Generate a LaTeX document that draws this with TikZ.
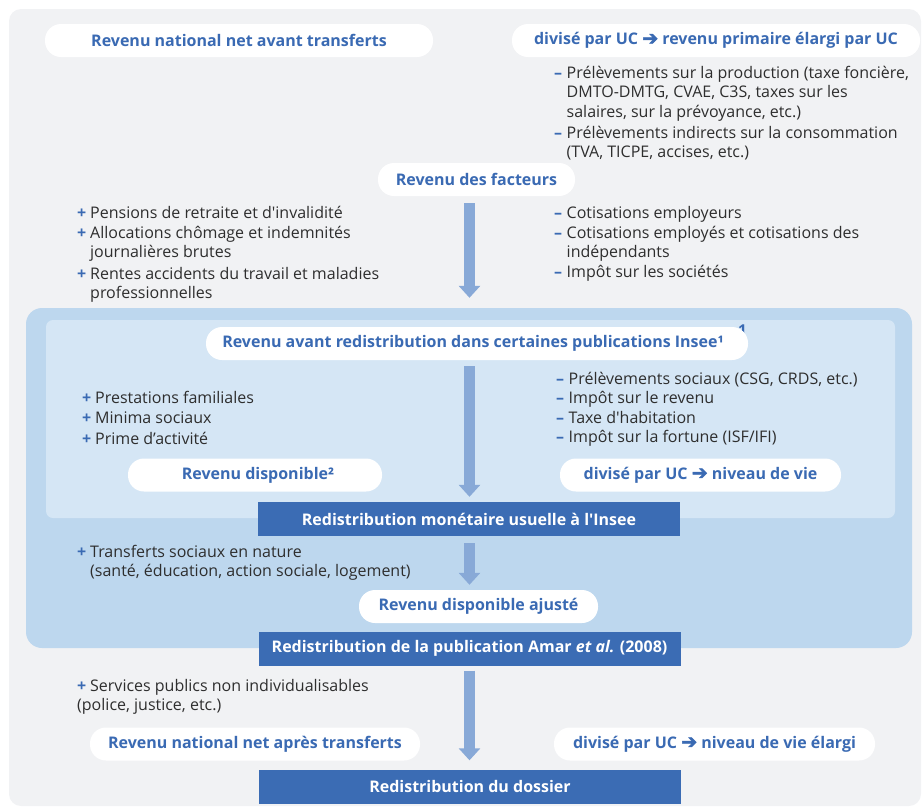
\documentclass[tikz,border=0pt]{standalone}
\usepackage{fontspec}
\setmainfont{Open Sans}[Ligatures=TeXOff]
\newfontfamily\djv{DejaVu Sans}[FakeBold=2.5]
\usetikzlibrary{arrows.meta}
\definecolor{bgg}{HTML}{F1F2F4}
\definecolor{midb}{HTML}{BDD7EE}
\definecolor{litb}{HTML}{D5E6F5}
\definecolor{darkb}{HTML}{3B6CB4}
\definecolor{tblue}{HTML}{3A6AB3}
\definecolor{arrc}{HTML}{88A9D7}
\definecolor{txt}{HTML}{2E2E2E}
\newcommand\plusm{\makebox[13pt][l]{\textcolor{tblue}{\bfseries +}}}
\newcommand\minusm{\makebox[12.5pt][l]{\textcolor{tblue}{\bfseries –}}}
\newcommand\ind{\hspace*{12.5pt}}
\newcommand\indp{\hspace*{13pt}}
\newcommand\arr{{\fontsize{19}{19}\djv ➔}}
\begin{document}
\begin{tikzpicture}[x=1pt,y=-1pt,
 pill/.style={fill=white, rounded corners=16pt, minimum height=33pt, inner sep=0pt, text=tblue, font=\fontsize{16}{19}\selectfont\bfseries},
 darkbox/.style={fill=darkb, minimum height=34pt, minimum width=422pt, inner sep=0pt, text=white, font=\fontsize{16}{19}\selectfont\bfseries},
 lst/.style={anchor=base west, inner sep=0pt, text=txt, font=\fontsize{16}{19.5}\selectfont},
 bigarrow/.style={draw=arrc, line width=11pt, -{Triangle[length=12pt,width=21pt]}},
]
\useasboundingbox (0,0) rectangle (924,807);
% backgrounds
\fill[bgg, rounded corners=12pt] (9,9) rectangle (921,806);
\fill[midb, rounded corners=16pt] (26,308) rectangle (912,648);
\fill[litb, rounded corners=7pt] (46,320) rectangle (895,518);

% stray footnote mark
\node[anchor=base, inner sep=0pt, text=tblue, font=\fontsize{15}{18}\selectfont\bfseries] (fn1) at (742.5,335) {1};

% pills
\node[pill, minimum width=388pt] (p1) at (239,40.5) {Revenu national net avant transferts};
\node[pill, minimum width=408pt] (p2) at (716,40.5) {divisé par UC \arr{} revenu primaire élargi par UC};
\node[pill, minimum width=197pt] (p3) at (476.5,179.5) {Revenu des facteurs};
\node[pill, minimum width=542pt] (p4) at (477,343.5) {\hspace*{-8pt}Revenu avant redistribution dans certaines publications Insee¹};
\node[pill, minimum width=254pt] (p5) at (255,475) {\hspace*{6pt}Revenu disponible²};
\node[pill, minimum width=281pt] (p6) at (700.5,475) {divisé par UC \arr{} niveau de vie};
\node[pill, minimum width=239pt] (p7) at (478.5,606.5) {Revenu disponible ajusté};
\node[pill, minimum width=330pt] (p8) at (255,744) {Revenu national net après transferts};
\node[pill, minimum width=321pt] (p9) at (714.5,744) {divisé par UC \arr{} niveau de vie élargi};

% dark boxes
\node[darkbox] (b1) at (469,519) {Redistribution monétaire usuelle à l'Insee};
\node[darkbox] (b2) at (469.5,648.5) {Redistribution de la publication Amar \textit{et al.} (2008)};
\node[darkbox] (b3) at (470,786.5) {Redistribution du dossier};

% lists
\node[lst] (r1) at (554,78) {\begin{tabular}[t]{@{}l@{}}
\minusm Prélèvements sur la production (taxe foncière,\\
\ind DMTO-DMTG, CVAE, C3S, taxes sur les\\
\ind salaires, sur la prévoyance, etc.)\\[1.5pt]
\minusm Prélèvements indirects sur la consommation\\
\ind (TVA, TICPE, accises, etc.)
\end{tabular}};

\node[lst] (l1) at (77,218.5) {\begin{tabular}[t]{@{}l@{}}
\plusm Pensions de retraite et d'invalidité\\
\plusm Allocations chômage et indemnités\\
\indp journalières brutes\\[2pt]
\plusm Rentes accidents du travail et maladies\\
\indp professionnelles
\end{tabular}};

\node[lst] (r2) at (554,218.5) {\begin{tabular}[t]{@{}l@{}}
\minusm Cotisations employeurs\\
\minusm Cotisations employés et cotisations des\\
\ind indépendants\\
\minusm Impôt sur les sociétés
\end{tabular}};

\node[lst] (l2) at (82,403) {\begin{tabular}[t]{@{}l@{}}
\plusm Prestations familiales\\[1pt]
\plusm Minima sociaux\\[1pt]
\plusm Prime d’activité
\end{tabular}};

\node[lst] (r3) at (556,384) {\begin{tabular}[t]{@{}l@{}}
\minusm Prélèvements sociaux (CSG, CRDS, etc.)\\
\minusm Impôt sur le revenu\\
\minusm Taxe d'habitation\\
\minusm Impôt sur la fortune (ISF/IFI)
\end{tabular}};

\node[lst] (l3) at (77,557) {\begin{tabular}[t]{@{}l@{}}
\plusm Transferts sociaux en nature\\
\indp (santé, éducation, action sociale, logement)
\end{tabular}};

\node[lst] (l4) at (77,691) {\begin{tabular}[t]{@{}l@{}}
\plusm Services publics non individualisables\\
(police, justice, etc.)
\end{tabular}};

% arrows
\coordinate (ax) at (469.5,0);
\draw[bigarrow, shorten <=7pt, shorten >=29pt] (p3.south -| ax) -- (p4.north -| ax);
\draw[bigarrow, shorten <=6pt, shorten >=5pt] (p4.south -| ax) -- (b1.north -| ax);
\draw[bigarrow, shorten <=7pt, shorten >=5pt] (b1.south -| ax) -- (p7.north -| ax);
\draw[bigarrow, shorten <=5pt, shorten >=9pt] (b2.south -| ax) -- (b3.north -| ax);
\end{tikzpicture}
\end{document}
